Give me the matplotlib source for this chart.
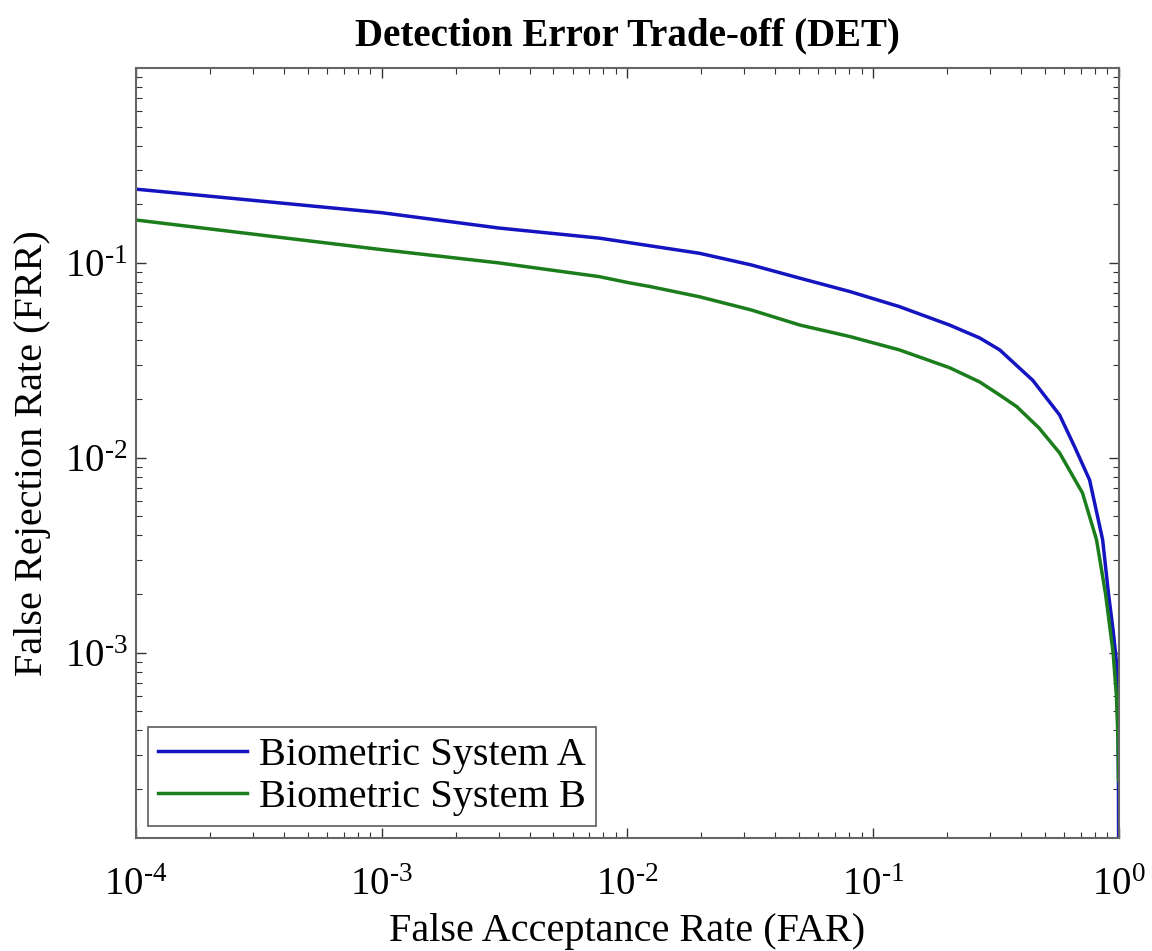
import matplotlib
matplotlib.use('Agg')
import matplotlib.pyplot as plt
from matplotlib.ticker import FuncFormatter, FixedLocator
import numpy as np

plt.rcParams['font.family'] = ['Liberation Serif', 'DejaVu Serif']
plt.rcParams['mathtext.fontset'] = 'custom'
plt.rcParams['mathtext.rm'] = 'Liberation Serif'

# FAR / FRR points
far_a = [1e-4, 1e-3, 0.003, 0.0077, 0.0102, 0.0197, 0.0319, 0.0504, 0.0805,
         0.128, 0.205, 0.272, 0.328, 0.447, 0.575, 0.662, 0.762, 0.861, 0.91,
         0.95, 0.98, 0.995, 0.999, 1.0]
frr_a = [0.239, 0.181, 0.151, 0.134, 0.127, 0.112, 0.0977, 0.0835, 0.0713,
         0.0597, 0.048, 0.0412, 0.0358, 0.025, 0.0166, 0.0114, 0.0077, 0.0038,
         0.002, 0.0013, 9e-4, 4e-4, 2e-4, 1.12e-4]

far_b = [1e-4, 1e-3, 0.003, 0.0077, 0.0102, 0.0124, 0.0197, 0.0319, 0.0504,
         0.0805, 0.128, 0.205, 0.272, 0.328, 0.385, 0.475, 0.575, 0.713, 0.813,
         0.885, 0.95, 0.98, 0.995, 1.0]
frr_b = [0.166, 0.117, 0.1, 0.085, 0.079, 0.0756, 0.067, 0.0574, 0.048,
         0.0419, 0.0358, 0.029, 0.0245, 0.021, 0.0183, 0.0142, 0.0106, 0.0066,
         0.0038, 0.002, 1.0e-3, 6e-4, 3.5e-4, 2.2e-4]

labels = ['Biometric System A', 'Biometric System B']
colors = ['#1414c0', '#1c7d1c']

fig = plt.figure(figsize=(11.52, 9.51), dpi=100)
ax = fig.add_axes([0.118, 0.1188, 0.853, 0.8097])

ax.plot(far_a, frr_a, color=colors[0], lw=2.5, label=labels[0])
ax.plot(far_b, frr_b, color=colors[1], lw=2.5, label=labels[1])

ax.set_xscale('log')
ax.set_yscale('log')
ax.set_xlim(1e-4, 1)
ax.set_ylim(1.12e-4, 1)


def pow10(v, pos):
    e = int(round(np.log10(v)))
    return r'$\mathregular{10^{\text{%d}}}$' % e


ax.xaxis.set_major_locator(FixedLocator([1e-4, 1e-3, 1e-2, 1e-1, 1]))
ax.yaxis.set_major_locator(FixedLocator([1e-3, 1e-2, 1e-1]))
ax.xaxis.set_major_formatter(FuncFormatter(pow10))
ax.yaxis.set_major_formatter(FuncFormatter(pow10))

ax.tick_params(which='both', direction='in', top=True, right=True, colors='#333333',
               labelcolor='black', labelsize=28)
ax.tick_params(which='major', length=7, width=1)
ax.tick_params(which='minor', length=4, width=0.8)
ax.tick_params(axis='x', pad=21)
ax.tick_params(axis='y', pad=6)
for s in ax.spines.values():
    s.set_color('#666666')
    s.set_linewidth(1.5)

ax.set_title('Detection Error Trade-off (DET)', fontsize=28, fontweight='bold', pad=16)
ax.set_xlabel('False Acceptance Rate (FAR)', fontsize=29, labelpad=6)
ax.set_ylabel('False Rejection Rate (FRR)', fontsize=29, labelpad=10)

leg = ax.legend(loc='lower left', fontsize=29, frameon=True, fancybox=False,
                edgecolor='#333333', handlelength=2.2, borderaxespad=0.3,
                handletextpad=0.3, labelspacing=0.12, borderpad=0.25)
leg.get_frame().set_linewidth(1.2)

fig.savefig('out.png', dpi=100)
